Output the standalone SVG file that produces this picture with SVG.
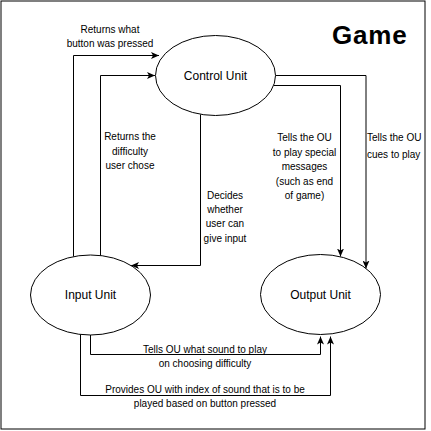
<svg xmlns="http://www.w3.org/2000/svg" width="431" height="431" viewBox="0 0 431 431">
<defs>
<marker id="arrow" viewBox="0 0 8 7" refX="8" refY="3.5" markerWidth="8" markerHeight="7" markerUnits="userSpaceOnUse" orient="auto">
<path d="M0,0 L8,3.5 L0,7 L2,3.5 Z" fill="#000"/>
</marker>
<style>
.node{fill:#fff;stroke:#000;stroke-width:1}
.ntext{font-family:"Liberation Sans",Arial,sans-serif;font-size:12px;fill:#000;text-anchor:middle}
.edge{fill:none;stroke:#000;stroke-width:1;marker-end:url(#arrow)}
.elabel{font-family:"Liberation Sans",Arial,sans-serif;font-size:10px;fill:#000;text-anchor:middle}
</style>
</defs>
<rect x="0" y="0" width="431" height="431" fill="#fff"/>
<rect x="1" y="1" width="424" height="428" fill="none" stroke="#000" stroke-width="1"/>
<text x="332" y="43.5" font-family="'Liberation Sans',Arial,sans-serif" font-size="26" font-weight="bold" letter-spacing="0.8" fill="#000">Game</text>

<g id="connectors">
<path class="edge" d="M73.5,256.6 V55.5 H159"/>
<path class="edge" d="M100.5,255.6 V75.5 H155"/>
<path class="edge" d="M200.5,114.5 V265.5 H131"/>
<path class="edge" d="M274,85.5 H340.5 V256.5"/>
<path class="edge" d="M275.5,75.5 H366 V268.5"/>
<path class="edge" d="M90.5,335 V354.5 H320.5 V336.5"/>
<path class="edge" d="M80.5,334.5 V395.5 H330.5 V336.5"/>
</g>

<g id="edge-labels">
<text class="elabel" x="110" y="32.5">Returns what</text>
<text class="elabel" x="110" y="47">button was pressed</text>
<text class="elabel" x="130" y="140">Returns the</text>
<text class="elabel" x="130" y="154.5">difficulty</text>
<text class="elabel" x="130" y="169">user chose</text>
<text class="elabel" x="225" y="198.5">Decides</text>
<text class="elabel" x="225" y="213">whether</text>
<text class="elabel" x="225" y="227">user can</text>
<text class="elabel" x="225" y="241.5">give input</text>
<text class="elabel" x="304.5" y="141">Tells the OU</text>
<text class="elabel" x="304.5" y="155.5">to play special</text>
<text class="elabel" x="304.5" y="170">messages</text>
<text class="elabel" x="304.5" y="184.5">(such as end</text>
<text class="elabel" x="304.5" y="199">of game)</text>
<text class="elabel" x="367" y="141" style="text-anchor:start">Tells the OU</text>
<text class="elabel" x="367" y="157.5" style="text-anchor:start">cues to play</text>
<text class="elabel" x="205" y="352.5">Tells OU what sound to play</text>
<text class="elabel" x="205" y="367">on choosing difficulty</text>
<text class="elabel" x="205" y="392.5">Provides OU with index of sound that is to be</text>
<text class="elabel" x="205" y="407">played based on button pressed</text>
</g>

<g id="control-unit">
<ellipse class="node" cx="215.5" cy="75.5" rx="60" ry="40"/>
<text class="ntext" x="215.5" y="79.5">Control Unit</text>
</g>
<g id="input-unit">
<ellipse class="node" cx="90.5" cy="295" rx="60" ry="40"/>
<text class="ntext" x="90.5" y="299">Input Unit</text>
</g>
<g id="output-unit">
<ellipse class="node" cx="320.5" cy="294.5" rx="60" ry="40"/>
<text class="ntext" x="320.5" y="298.5">Output Unit</text>
</g>
</svg>
